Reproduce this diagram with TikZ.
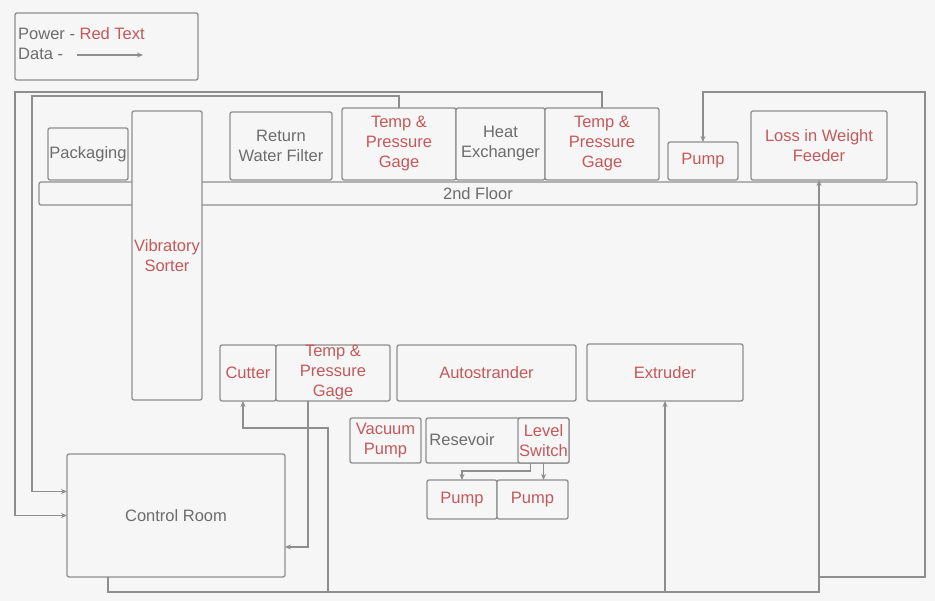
\documentclass[tikz,border=0pt]{standalone}
\usepackage{fontspec}
\setmainfont{Liberation Sans}
\usetikzlibrary{arrows.meta}
\definecolor{linegray}{HTML}{8E8E8E}
\definecolor{txtgray}{HTML}{6C6C6C}
\definecolor{pwrred}{HTML}{C4585A}
\definecolor{bgcol}{HTML}{F6F6F6}
\begin{document}
\begin{tikzpicture}[x=1pt,y=-1pt,
  box/.style={draw=linegray, line width=1.3pt, fill=bgcol, rounded corners=2pt,
    anchor=north west, inner sep=0pt, outer sep=0pt, align=center,
    text=txtgray, font=\fontsize{16.5}{20}\selectfont},
  pwr/.style={box, text=pwrred},
  data/.style={draw=linegray, line width=1.3pt, -{Stealth[length=6pt,width=5pt]}},
  wire/.style={draw=linegray, line width=1.3pt},
  lbl/.style={inner sep=0pt, text=txtgray, font=\fontsize{16.5}{20}\selectfont}]
% canvas
\fill[bgcol] (0,0) rectangle (935,601);
\useasboundingbox (0,0) rectangle (935,601);

% legend
\node[box, minimum width=183pt, minimum height=67pt] (legend) at (15,13) {};
\node[lbl, anchor=base west] (lgpower) at (18,40) {Power - \textcolor{pwrred}{Red Text}};
\node[lbl, anchor=base west] (lgdata) at (18,60) {Data -};
\coordinate (lgA) at (77,55);
\coordinate (lgB) at (143,55);
\draw[data] (lgA) -- (lgB);

% second floor
\node[box, minimum width=878pt, minimum height=23pt] (floor) at (39,182) {2nd Floor};
\node[box, minimum width=80pt, minimum height=52pt] (pack) at (48,128) {Packaging};
\node[pwr, minimum width=70pt, minimum height=289pt] (sorter) at (132,111) {Vibratory\\Sorter};
\node[box, minimum width=102pt, minimum height=68pt] (rwf) at (230,112) {Return\\Water Filter};
\node[pwr, minimum width=114pt, minimum height=72pt] (tp1) at (342,108) {Temp \&\\Pressure\\Gage};
\node[box, minimum width=89pt, minimum height=72pt] (hx) at (456,108) {Heat\\Exchanger};
\node[pwr, minimum width=114pt, minimum height=72pt] (tp2) at (545,108) {Temp \&\\Pressure\\Gage};
\node[pwr, minimum width=70pt, minimum height=38pt] (pumpT) at (668,142) {Pump};
\node[pwr, minimum width=136pt, minimum height=69pt] (liwf) at (751,111) {Loss in Weight\\Feeder};

% ground floor line
\node[pwr, minimum width=56pt, minimum height=56pt] (cutter) at (220,345) {Cutter};
\node[pwr, minimum width=114pt, minimum height=56pt] (tp3) at (276,345) {Temp \&\\Pressure\\Gage};
\node[pwr, minimum width=179pt, minimum height=56pt] (auto) at (397,345) {Autostrander};
\node[pwr, minimum width=156pt, minimum height=57pt] (extr) at (587,344) {Extruder};

% water loop
\node[pwr, minimum width=71pt, minimum height=45pt] (vac) at (350,418) {Vacuum\\Pump};
\node[box, minimum width=143pt, minimum height=45pt] (res) at (426,418) {};
\node[lbl] (restxt) at (462,440) {Resevoir};
\node[pwr, minimum width=51pt, minimum height=45pt] (lsw) at (518,418) {Level\\Switch};
\node[pwr, minimum width=70pt, minimum height=39pt] (pump1) at (427,480) {Pump};
\node[pwr, minimum width=71pt, minimum height=39pt] (pump2) at (497,480) {Pump};

% control room
\node[box, minimum width=218pt, minimum height=123pt] (ctrl) at (67,454) {Control Room};

% routing points
\coordinate (rA) at (15,92);
\coordinate (rB) at (32,96);
\coordinate (jR) at (819,592);
\coordinate (jC) at (328,592);
\coordinate (kC) at (328,428);
\coordinate (jP) at (819,577);
\coordinate (rP) at (925,92);

% gauges to control room
\draw[data] (tp2.north) |- (rA) |- (ctrl.west);
\draw[data] (tp1.north) |- (rB) |- ([yshift=24pt]ctrl.west);
\draw[data] ([xshift=-25pt]tp3.south) |- ([yshift=-31.5pt]ctrl.east);

% control room to equipment
\draw[data] ([xshift=-68pt]ctrl.south) |- (jR) -- (liwf.south);
\draw[data] (extr.south |- jR) -- (extr.south);
\draw[data] (jC) -- (kC) -| ([xshift=-5pt]cutter.south);
\draw[data] (jP) -| (rP) -| (pumpT.north);

% level switch to pumps
\draw[data] ([xshift=-13pt]lsw.south) -- ++(0,8) -| (pump1.north);
\draw[data] (lsw.south) -- (lsw.south |- pump2.north);
\end{tikzpicture}
\end{document}
